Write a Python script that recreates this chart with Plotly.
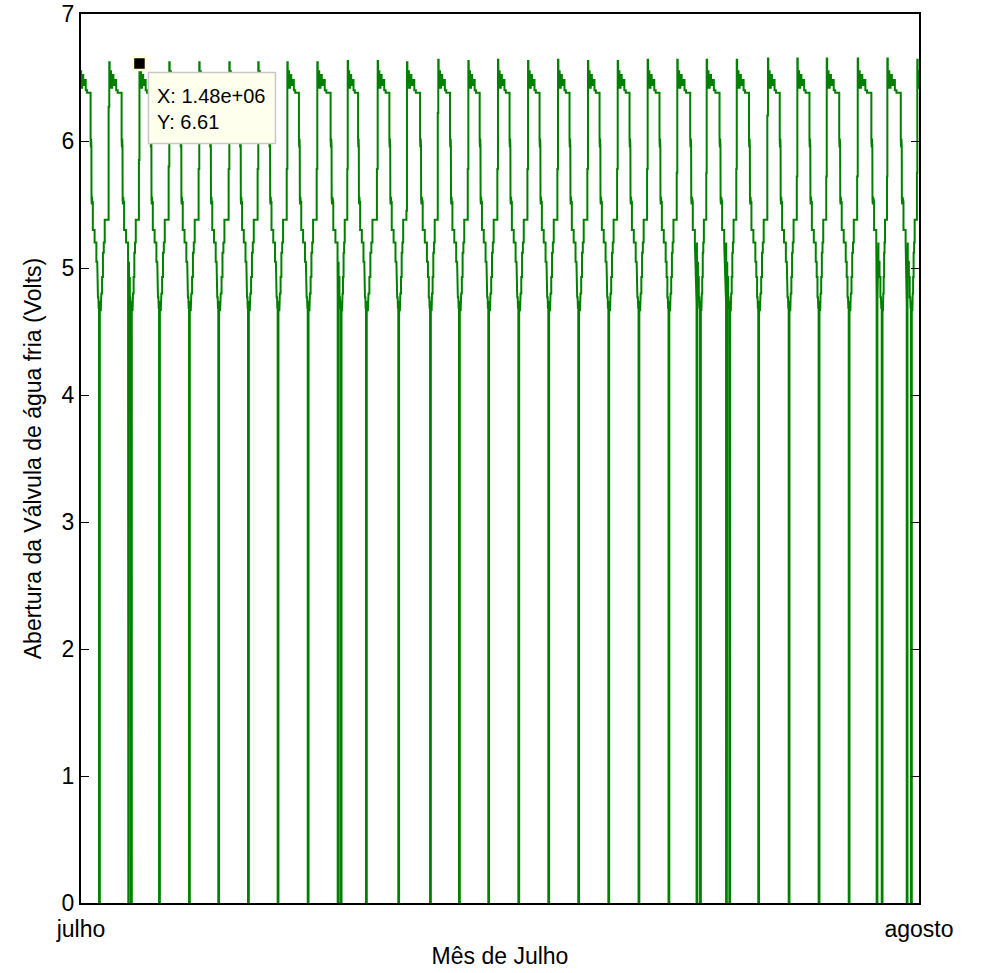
import plotly.graph_objects as go

# Time axis: hours from 1 July 00:00 up to 1 August 00:00 (31 days)
month_hours = 744
month_ticks = [0, 744]
month_labels = ["julho", "agosto"]

# Start of each daily opening peak (hours) and its peak voltage
peak_hours = [-1.3, 25.1, 51.9, 78.4, 105.0, 131.7, 157.4, 183.2, 209.8, 236.8,
              263.4, 289.4, 317.2, 343.9, 370.2, 396.9, 423.5, 450.1, 476.5, 503.1,
              529.4, 555.5, 582.2, 609.9, 636.0, 662.1, 689.6, 715.9, 742.5]
peak_volts = [6.55, 6.62, 6.61, 6.62, 6.62, 6.62, 6.62, 6.62, 6.62, 6.63,
              6.63, 6.62, 6.64, 6.63, 6.64, 6.63, 6.64, 6.63, 6.63, 6.64,
              6.64, 6.64, 6.64, 6.65, 6.65, 6.65, 6.65, 6.65, 6.64]

# Valve shut-off events (drop to 0 V) closing each cycle
spike_hours = [16.0, 44.4, 69.3, 95.9, 121.9, 148.3, 174.6, 201.3, 230.6, 253.0,
               281.7, 309.9, 335.6, 361.6, 388.3, 414.9, 441.5, 468.2, 495.0, 521.6,
               549.6, 575.6, 601.3, 628.3, 654.9, 681.6, 710.9, 736.9, 760.9]
extra_spike_hours = [42.0, 227.9, 546.5, 572.7, 706.4, 733.1]

# Intermediate level reached just before each peak
pre_peak_volts = [6.27, 5.85, 5.80, 5.78, 5.78, 5.78, 5.78, 5.78, 5.78, 5.78,
                  5.45, 6.22, 5.78, 5.78, 5.78, 5.78, 5.78, 5.78, 5.78, 5.75,
                  5.75, 5.78, 6.20, 5.72, 5.72, 5.72, 5.72, 5.75]

# Closing ramp after a peak (fraction of the peak -> shut-off interval, volts)
desc_frac = [0.018, 0.045, 0.045, 0.082, 0.082, 0.136, 0.136, 0.191, 0.191, 0.25,
             0.25, 0.318, 0.318, 0.386, 0.386, 0.568, 0.568, 0.582, 0.595, 0.609,
             0.614, 0.627, 0.641, 0.655, 0.682, 0.682, 0.773, 0.773, 0.864, 0.864,
             0.909, 0.909, 0.945, 0.945, 0.968, 0.982]
desc_volts = [6.45, 6.45, 6.55, 6.55, 6.42, 6.42, 6.52, 6.52, 6.44, 6.44,
              6.48, 6.48, 6.40, 6.40, 6.38, 6.38, 6.01, 5.95, 6.02, 5.96,
              5.54, 5.50, 5.56, 5.52, 5.52, 5.30, 5.30, 5.20, 5.20, 5.05,
              5.05, 4.93, 4.93, 4.77, 4.77, 4.68]

# Shut-off dip (hours after the event, volts)
dip_hours = [0.0, 0.0, 0.25, 0.25, 0.45, 0.45, 0.7, 0.7]
dip_volts = [4.72, 0.0, 0.0, 4.70, 4.70, 0.0, 0.0, 4.74]

# Re-opening ramp before the next peak (fraction of interval, volts)
rise_frac = [0.10, 0.16, 0.24, 0.24, 0.33, 0.33, 0.42, 0.42, 0.52, 0.52, 0.93]
rise_volts = [4.66, 4.80, 4.80, 4.93, 4.93, 5.12, 5.12, 5.20, 5.20, 5.38, 5.38]

tip_text = "X: 1.48e+06<br>Y: 6.61"

# ---- assemble the signal
pts = []
for i, p in enumerate(peak_hours):
    s = spike_hours[i]
    span = s - p
    pts.append((p, peak_volts[i]))
    pts.append((p + 0.018 * span, peak_volts[i]))
    for f, v in zip(desc_frac, desc_volts):
        pts.append((p + f * span, v))
    for h, v in zip(dip_hours, dip_volts):
        pts.append((s + h, v))
    if i + 1 < len(peak_hours):
        q = peak_hours[i + 1]
        r0 = s + dip_hours[-1]
        rspan = q - r0
        for f, v in zip(rise_frac, rise_volts):
            pts.append((r0 + f * rspan, v))
        pre = pre_peak_volts[i]
        pts.append((r0 + 0.93 * rspan, pre))
        pts.append((q, pre))

for e in extra_spike_hours:
    for h, v in zip(dip_hours, dip_volts):
        pts.append((e + h, v))

pts = sorted(pts, key=lambda t: t[0])
xs = [t[0] for t in pts]
ys = [t[1] for t in pts]

fig = go.Figure()
fig.add_trace(go.Scatter(
    x=xs, y=ys, mode="lines",
    line=dict(color="#008000", width=2),
    hoverinfo="skip",
))

# data cursor on the second peak
tip_x = peak_hours[2]
tip_y = peak_volts[2]
fig.add_trace(go.Scatter(
    x=[tip_x], y=[tip_y], mode="markers",
    marker=dict(symbol="square", size=13, color="black",
                line=dict(color="#FFFFD8", width=2.5)),
    cliponaxis=False, hoverinfo="skip",
))
# cursor box, sized in pixels and anchored to the cursor point
fig.add_shape(
    type="rect", xref="x", yref="y",
    xsizemode="pixel", ysizemode="pixel",
    xanchor=tip_x, yanchor=tip_y,
    x0=9, x1=136, y0=-9, y1=-80,
    fillcolor="#FFFFEE", line=dict(color="#C8C8C8", width=1.5),
    layer="above",
)
fig.add_annotation(
    x=tip_x, y=tip_y, xref="x", yref="y",
    text=tip_text, showarrow=False, align="left",
    xanchor="left", yanchor="top", xshift=17, yshift=-20,
    borderpad=0,
    font=dict(size=20, color="black"),
)

axis_common = dict(
    showgrid=False, zeroline=False, showline=True, automargin=False,
    linecolor="black", linewidth=2, mirror="ticks",
    ticks="inside", ticklen=8, tickwidth=1, tickcolor="black",
    tickfont=dict(size=23, color="black"),
)

fig.update_layout(
    width=982, height=973,
    margin=dict(l=81, r=63, t=14, b=70),
    paper_bgcolor="white", plot_bgcolor="white",
    showlegend=False,
    font=dict(family="Liberation Sans, Arial, sans-serif", size=23, color="black"),
    xaxis=dict(range=[0, month_hours], tickvals=month_ticks, ticktext=month_labels,
               ticklabelstandoff=4,
               title=dict(text="Mês de Julho", font=dict(size=23), standoff=7),
               **axis_common),
    yaxis=dict(range=[0, 7], tickvals=list(range(0, 8)),
               title=dict(text="Abertura da Válvula de água fria (Volts)",
                          font=dict(size=23), standoff=14),
               **axis_common),
)

fig.write_html("out.html")
